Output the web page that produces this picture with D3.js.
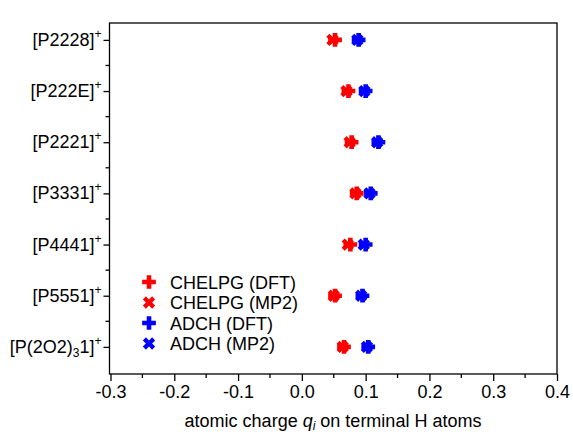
<!DOCTYPE html>
<html>
<head>
<meta charset="utf-8">
<script src="https://cdn.jsdelivr.net/npm/d3@7"></script>
<style>
  body { margin: 0; background: #fff; }
  svg { display: block; font-family: "Liberation Sans", Arial, sans-serif; }
</style>
</head>
<body>
<svg id="chart" width="573" height="434"></svg>
<script>
// Cations (top to bottom) and their terminal-H charges
const cations = [
  { base: "[P2228]", sub: null, tail: "" },
  { base: "[P222E]", sub: null, tail: "" },
  { base: "[P2221]", sub: null, tail: "" },
  { base: "[P3331]", sub: null, tail: "" },
  { base: "[P4441]", sub: null, tail: "" },
  { base: "[P5551]", sub: null, tail: "" },
  { base: "[P(2O2)", sub: "3", tail: "1]" }
];
const chelpgDFT = [0.052, 0.073, 0.078, 0.086, 0.076, 0.052, 0.066];
const chelpgMP2 = [0.048, 0.070, 0.075, 0.084, 0.072, 0.050, 0.064];
const adchDFT   = [0.089, 0.100, 0.120, 0.108, 0.100, 0.095, 0.104];
const adchMP2   = [0.087, 0.098, 0.118, 0.106, 0.097, 0.093, 0.102];
const xTicks = [-0.3, -0.2, -0.1, 0.0, 0.1, 0.2, 0.3, 0.4];
const xTickLabels = ["-0.3", "-0.2", "-0.1", "0.0", "0.1", "0.2", "0.3", "0.4"];
const xMinorTicks = [-0.25, -0.15, -0.05, 0.05, 0.15, 0.25, 0.35];

const series = [
  { name: "CHELPG (DFT)", values: chelpgDFT, color: "#ff0000", shape: "plus" },
  { name: "CHELPG (MP2)", values: chelpgMP2, color: "#ff0000", shape: "x" },
  { name: "ADCH (DFT)",   values: adchDFT,   color: "#0000ff", shape: "plus" },
  { name: "ADCH (MP2)",   values: adchMP2,   color: "#0000ff", shape: "x" }
];

const FS = 18, FS_SMALL = 12;
const svg = d3.select("#chart");
const frame = { left: 109.5, right: 557, top: 23, bottom: 374 };

const x = d3.scaleLinear().domain([-0.3, 0.4]).range([frame.left + 1, frame.right]);
const y = d3.scaleLinear().domain([-0.33, 6.53]).range([frame.top, frame.bottom]);

// plot frame
svg.append("rect")
  .attr("x", frame.left).attr("y", frame.top)
  .attr("width", frame.right - frame.left).attr("height", frame.bottom - frame.top)
  .attr("fill", "none").attr("stroke", "#000").attr("stroke-width", 1.3);

// bottom axis
const xAxis = svg.append("g").attr("transform", `translate(0,${frame.bottom})`);
xAxis.call(d3.axisBottom(x).tickValues(xTicks).tickFormat((d, i) => xTickLabels[i]).tickSize(7).tickPadding(4))
  .call(g => g.select(".domain").remove())
  .call(g => g.selectAll("line").attr("stroke-width", 1.3))
  .call(g => g.selectAll("text").attr("font-size", FS).attr("font-family", "Liberation Sans, Arial, sans-serif").attr("fill", "#000"));
xAxis.selectAll(".minor").data(xMinorTicks).enter().append("line")
  .attr("x1", d => x(d)).attr("x2", d => x(d)).attr("y1", 0).attr("y2", 4)
  .attr("stroke", "#000").attr("stroke-width", 1.3);

// left axis
const yAxis = svg.append("g").attr("transform", `translate(${frame.left},0)`);
yAxis.call(d3.axisLeft(y).tickValues(d3.range(cations.length)).tickFormat("").tickSize(6))
  .call(g => g.select(".domain").remove())
  .call(g => g.selectAll("line").attr("stroke-width", 1.3));
yAxis.selectAll(".minor").data(d3.range(cations.length - 1).map(i => i + 0.5)).enter().append("line")
  .attr("x1", 0).attr("x2", -4).attr("y1", d => y(d)).attr("y2", d => y(d))
  .attr("stroke", "#000").attr("stroke-width", 1.3);

// category labels with charges
cations.forEach((c, i) => {
  const t = svg.append("text")
    .attr("x", frame.left - 8).attr("y", y(i) + 6)
    .attr("text-anchor", "end").attr("font-size", FS).attr("fill", "#000");
  t.append("tspan").text(c.base);
  if (c.sub) {
    t.append("tspan").attr("dy", 4).attr("font-size", FS_SMALL).text(c.sub);
    t.append("tspan").attr("dy", -4).text(c.tail);
  }
  t.append("tspan").attr("dy", -8).attr("font-size", FS_SMALL).text("+");
});

// axis title
const title = svg.append("text")
  .attr("x", 333).attr("y", 427).attr("text-anchor", "middle")
  .attr("font-size", FS).attr("fill", "#000");
title.append("tspan").text("atomic charge  ");
title.append("tspan").attr("font-style", "italic").text("q");
title.append("tspan").attr("font-style", "italic").attr("font-size", FS_SMALL).attr("dy", 3).text("i");
title.append("tspan").attr("dy", -3).text(" on terminal H atoms");

// markers
const plusPath = d3.symbol().type(d3.symbolCross).size(105)();
const xPath = d3.symbol().type(d3.symbolCross).size(95)();
function marker(g, shape, color, cx, cy) {
  g.append("path")
    .attr("d", shape === "plus" ? plusPath : xPath)
    .attr("transform", `translate(${cx},${cy})` + (shape === "x" ? " rotate(45)" : ""))
    .attr("fill", color);
}

const marks = svg.append("g");
series.forEach(s => {
  s.values.forEach((v, i) => marker(marks, s.shape, s.color, x(v), y(i)));
});

// legend
const legend = svg.append("g");
series.forEach((s, i) => {
  const ly = 282 + i * 20.5;
  marker(legend, s.shape, s.color, 149, ly);
  legend.append("text")
    .attr("x", 170).attr("y", ly + 6.5)
    .attr("font-size", FS).attr("fill", "#000").text(s.name);
});
</script>
</body>
</html>
